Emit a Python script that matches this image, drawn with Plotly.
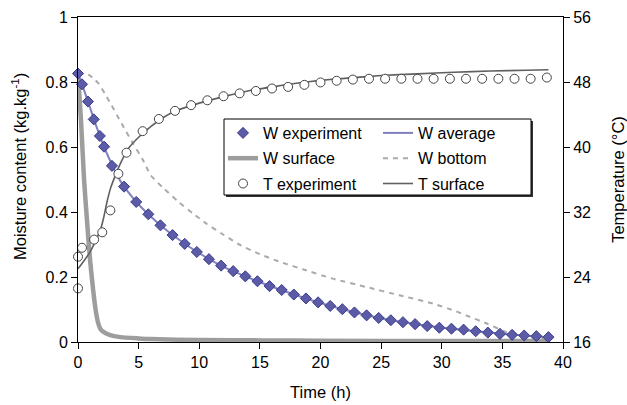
import plotly.graph_objects as go

# ---------------- data ----------------
t_wexp = [0, 0.33, 0.82, 1.3, 1.8, 2.15, 2.8, 3.8, 4.8, 5.8, 6.8, 7.8, 8.8, 9.8, 10.8, 11.8,
          12.8, 13.8, 14.8, 15.8, 16.8, 17.8, 18.8, 19.8, 20.8, 21.8, 22.8, 23.8, 24.8, 25.8,
          26.8, 27.8, 28.8, 29.8, 30.8, 31.8, 32.8, 33.8, 34.8, 35.8, 36.8, 37.8, 38.8]
w_exp = [0.826, 0.793, 0.740, 0.685, 0.634, 0.601, 0.542, 0.478, 0.431, 0.393, 0.359, 0.329,
         0.302, 0.277, 0.255, 0.235, 0.218, 0.202, 0.187, 0.172, 0.160, 0.146, 0.134, 0.122,
         0.111, 0.101, 0.091, 0.082, 0.074, 0.067, 0.061, 0.055, 0.049, 0.044, 0.041, 0.038,
         0.033, 0.029, 0.025, 0.022, 0.020, 0.018, 0.015]

t_wavg = [0, 0.5, 1, 1.5, 2, 2.5, 3, 3.5, 4, 5, 6, 7, 8, 10, 12, 14, 16, 18, 20, 22, 24, 26,
          28, 30, 32, 34, 36, 38, 38.8]
w_avg = [0.826, 0.775, 0.720, 0.665, 0.615, 0.570, 0.530, 0.495, 0.468, 0.423, 0.386, 0.353,
         0.324, 0.273, 0.231, 0.199, 0.170, 0.144, 0.120, 0.099, 0.081, 0.066, 0.054, 0.044,
         0.036, 0.029, 0.022, 0.017, 0.015]

t_wsurf = [0, 0.25, 0.5, 0.75, 1.0, 1.25, 1.45, 1.65, 1.85, 2.1, 2.6, 3.5, 5, 6, 10, 15, 20,
           30, 38.8]
w_surf = [0.825, 0.680, 0.500, 0.370, 0.250, 0.160, 0.100, 0.060, 0.040, 0.031, 0.022, 0.015,
          0.011, 0.009, 0.006, 0.005, 0.004, 0.003, 0.003]

t_wbot = [0, 0.5, 0.9, 1.3, 1.7, 2.2, 2.7, 3.6, 4.5, 5.3, 6.0, 7.0, 8.2, 9.5, 10.6, 12, 13.4,
          15, 16.7, 18.6, 21, 23.8, 26.5, 29.3, 31, 32, 33.7, 35.3, 37, 38.8]
w_bot = [0.825, 0.825, 0.822, 0.810, 0.795, 0.765, 0.733, 0.672, 0.613, 0.564, 0.513, 0.475,
         0.434, 0.395, 0.364, 0.330, 0.298, 0.270, 0.246, 0.223, 0.195, 0.169, 0.144, 0.118,
         0.097, 0.082, 0.057, 0.031, 0.015, 0.012]

t_texp = [0, 0, 0.33, 1.33, 2.0, 2.67, 3.33, 4.0, 5.33, 6.67, 8.0, 9.33, 10.67, 12.0, 13.33,
          14.67, 16.0, 17.33, 18.67, 20.0, 21.33, 22.67, 24.0, 25.33, 26.67, 28.0, 29.33,
          30.67, 32.0, 33.33, 34.67, 36.0, 37.33, 38.67]
T_exp = [26.5, 22.6, 27.6, 28.6, 29.5, 32.2, 36.7, 39.3, 41.95, 43.45, 44.45, 45.15, 45.75,
         46.25, 46.6, 46.9, 47.2, 47.4, 47.65, 47.95, 48.15, 48.3, 48.4, 48.4, 48.4, 48.4,
         48.4, 48.4, 48.4, 48.4, 48.4, 48.4, 48.4, 48.55]

t_tsurf = [0, 0.5, 1.0, 1.5, 1.85, 2.1, 2.4, 2.7, 3.0, 3.3, 3.7, 4.2, 5, 6, 7, 8, 10, 12, 14,
           16, 18, 20, 22, 25, 28, 31, 34, 37, 38.8]
T_surf = [25.0, 26.0, 27.1, 28.6, 29.8, 31.2, 33.3, 35.0, 36.2, 37.3, 38.6, 39.9, 41.2, 42.5,
          43.6, 44.4, 45.4, 46.2, 46.9, 47.4, 47.85, 48.2, 48.45, 48.8, 49.0, 49.2, 49.35,
          49.45, 49.5]

x_ticks = [0, 5, 10, 15, 20, 25, 30, 35, 40]
y_ticks = [0, 0.2, 0.4, 0.6, 0.8, 1]
y2_ticks = [16, 24, 32, 40, 48, 56]

# ---------------- layout helpers ----------------
W, H = 627, 405
L, R, T, B = 78, 64, 17, 63
PW, PH = W - L - R, H - T - B


def px_x(p):
    return (p - L) / PW


def px_y(p):
    return 1 - (p - T) / PH


FONT = "Liberation Sans, Arial, sans-serif"
FS = 16

fig = go.Figure()

fig.add_trace(go.Scatter(x=t_wsurf, y=w_surf, mode="lines", name="W surface",
                         line=dict(color="rgba(140,140,140,0.85)", width=4.5,
                                   shape="spline", smoothing=0.6),
                         legend="legend", legendrank=2, legendgroup="g2"))
fig.add_trace(go.Scatter(x=t_wbot, y=w_bot, mode="lines", name="W bottom",
                         line=dict(color="#aaaaaa", width=2, dash="5px,5px",
                                   shape="spline", smoothing=0.5),
                         legend="legend2", legendrank=5, legendgroup="g5"))
fig.add_trace(go.Scatter(x=t_wavg, y=w_avg, mode="lines", name="W average",
                         line=dict(color="#8080c0", width=2, shape="spline", smoothing=0.5),
                         legend="legend2", legendrank=4, legendgroup="g4"))
fig.add_trace(go.Scatter(x=t_tsurf, y=T_surf, mode="lines", name="T surface", yaxis="y2",
                         line=dict(color="#606060", width=1.6, shape="spline", smoothing=0.5),
                         legend="legend2", legendrank=6, legendgroup="g6"))
fig.add_trace(go.Scatter(x=t_wexp, y=w_exp, mode="markers", name="W experiment",
                         marker=dict(symbol="diamond", size=8.5, color="#5b5ba8",
                                     line=dict(color="#3c3c8c", width=1)),
                         cliponaxis=False,
                         legend="legend", legendrank=1, legendgroup="g1"))
fig.add_trace(go.Scatter(x=t_texp, y=T_exp, mode="markers", name="T experiment", yaxis="y2",
                         marker=dict(symbol="circle", size=9, color="white",
                                     line=dict(color="#444444", width=1)),
                         cliponaxis=False,
                         legend="legend", legendrank=3, legendgroup="g3"))

axis_common = dict(showgrid=False, zeroline=False, showline=True, linecolor="black",
                   linewidth=1, ticks="outside", ticklen=6, tickcolor="black",
                   automargin=False,
                   tickfont=dict(family=FONT, size=FS, color="black"))

fig.update_layout(
    width=W, height=H,
    margin=dict(l=L, r=R, t=T, b=B),
    paper_bgcolor="white", plot_bgcolor="white",
    font=dict(family=FONT, size=FS, color="black"),
    xaxis=dict(range=[0, 40], tickvals=x_ticks, mirror=True,
               title=dict(text="Time (h)", font=dict(family=FONT, size=16.5), standoff=16),
               **axis_common),
    yaxis=dict(range=[0, 1], tickvals=y_ticks, ticktext=[str(v) for v in y_ticks],
               **axis_common),
    yaxis2=dict(range=[16, 56], tickvals=y2_ticks, overlaying="y", side="right",
                title=dict(text="Temperature (°C)", font=dict(family=FONT, size=16.5),
                           standoff=24),
                **axis_common),
    yaxis3=dict(range=[16, 56], tickvals=y2_ticks, overlaying="y", side="right",
                anchor="x", showgrid=False, zeroline=False, showline=False,
                ticks="inside", ticklen=5, tickcolor="black", showticklabels=False),
    annotations=[
        dict(text="Moisture content (kg.kg<sup>-1</sup>)", textangle=-90,
             xref="paper", yref="paper", x=px_x(19), y=px_y(167),
             xanchor="center", yanchor="middle", showarrow=False,
             font=dict(family=FONT, size=16.5, color="black")),
    ],
    legend=dict(x=px_x(223), y=px_y(116), xanchor="left", yanchor="top",
                bgcolor="rgba(0,0,0,0)", borderwidth=0, tracegroupgap=1.5,
                traceorder="grouped", font=dict(family=FONT, size=FS, color="black")),
    legend2=dict(x=px_x(378), y=px_y(116), xanchor="left", yanchor="top",
                 bgcolor="rgba(0,0,0,0)", borderwidth=0, tracegroupgap=1.5,
                 traceorder="grouped", font=dict(family=FONT, size=FS, color="black")),
    shapes=[
        dict(type="rect", xref="paper", yref="paper", layer="above",
             x0=px_x(226), x1=px_x(533), y0=px_y(197), y1=px_y(121),
             fillcolor="#333333", line=dict(width=0)),
        dict(type="rect", xref="paper", yref="paper", layer="above",
             x0=px_x(224), x1=px_x(531), y0=px_y(195), y1=px_y(119),
             fillcolor="white", line=dict(color="black", width=1)),
    ],
    showlegend=True,
)

fig.write_html("out.html", config={"displayModeBar": False},
               post_script="document.body.style.margin='0';")
